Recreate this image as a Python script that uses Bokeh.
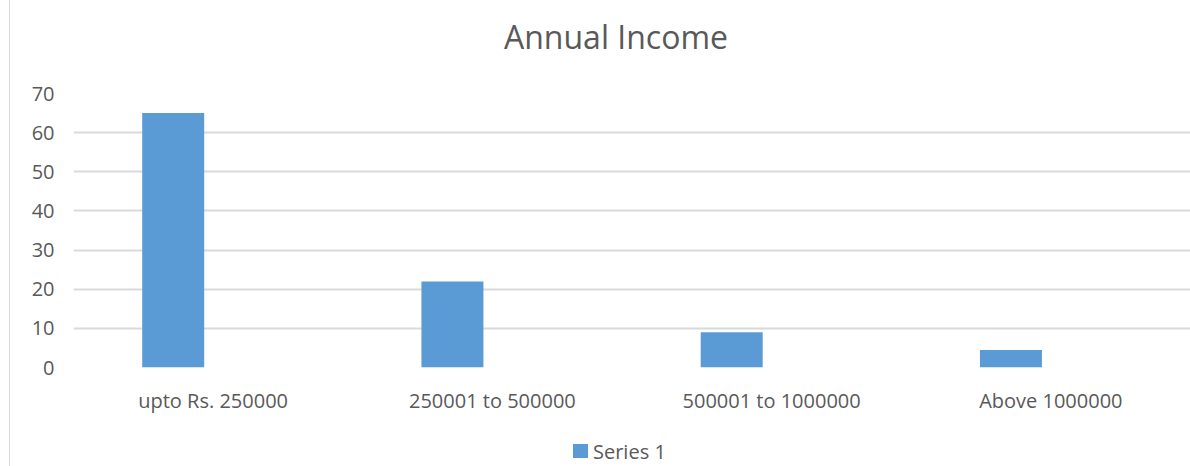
from bokeh.plotting import figure
from bokeh.models import FactorRange, Range1d, FixedTicker, Div
from bokeh.layouts import row, column
from bokeh.transform import dodge
from bokeh.embed import file_html
from bokeh.resources import INLINE

title_text = "Annual Income"
series_name = "Series 1"
categories = ["upto Rs. 250000", "250001 to 500000", "500001 to 1000000", "Above 1000000"]
series1 = [65, 22, 9, 4.5]
y_ticks = [0, 10, 20, 30, 40, 50, 60, 70]

FONT = "Open Sans"
TXT = "#595959"
BAR = "#5b9bd5"

p = figure(
    x_range=FactorRange(*categories, range_padding=0),
    y_range=Range1d(0, 70),
    frame_width=1117, frame_height=274,
    output_backend="svg", toolbar_location=None,
    min_border_left=63, min_border_right=0, min_border_top=19, min_border_bottom=55,
)

src = dict(cat=categories, val=series1)
p.vbar(x=dodge("cat", -0.143, range=p.x_range), top="val", width=0.222,
       source=src, fill_color=BAR, line_color=None)

p.outline_line_color = None
p.xgrid.grid_line_color = None
p.ygrid.grid_line_color = "#d9d9d9"
p.ygrid.grid_line_width = 2
p.yaxis.ticker = FixedTicker(ticks=y_ticks)

for ax in (p.xaxis[0], p.yaxis[0]):
    ax.axis_line_color = None
    ax.major_tick_line_color = None
    ax.minor_tick_line_color = None
    ax.major_tick_out = 0
    ax.major_label_text_font = FONT
    ax.major_label_text_font_size = "20px"
    ax.major_label_text_color = TXT
p.yaxis.major_label_standoff = 19
p.xaxis.major_label_standoff = 19

title_div = Div(
    text=(f'<div style="width:1148px;text-align:center;font-family:\'{FONT}\';'
          f'font-size:32px;line-height:74px;color:{TXT};white-space:nowrap;">{title_text}</div>'),
    width=1148, height=74, margin=(0, 0, 0, 32),
)

legend_div = Div(
    text=(f'<div style="font-family:\'{FONT}\';font-size:20px;line-height:28px;color:{TXT};white-space:nowrap;">'
          f'<span style="display:inline-block;width:15px;height:14px;background:{BAR};'
          f'vertical-align:1px;margin-right:5px;"></span>{series_name}</div>'),
    width=200, height=28, margin=(16, 0, 0, 563),
)

edge = Div(text="", width=10, height=466, margin=0,
           styles={"border-right": "1px solid #d9d9d9", "box-sizing": "border-box"})

layout = row(edge, column(title_div, p, legend_div, spacing=0), spacing=0)
open("out.html", "w").write(file_html(layout, INLINE))
